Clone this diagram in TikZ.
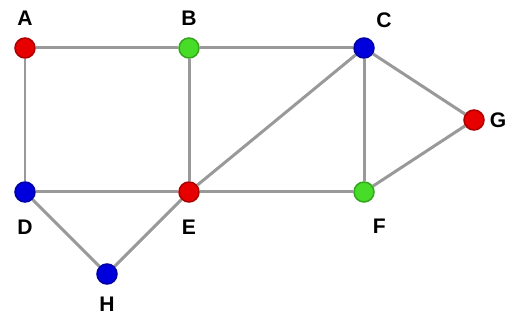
\documentclass[tikz,border=0pt]{standalone}
\usepackage{fontspec}
\setmainfont{Liberation Sans}
\usetikzlibrary{positioning,backgrounds}
\definecolor{vred}{RGB}{230,0,0}
\definecolor{vgreen}{RGB}{70,220,40}
\definecolor{vblue}{RGB}{0,0,220}

\begin{document}
\begin{tikzpicture}[x=0.02cm,y=-0.02cm,
    vertex/.style={circle,draw=#1!75!black,fill=#1,line width=0.3mm,minimum size=0.4cm,inner sep=0},
    edge/.style={draw=gray!80,line width=0.6mm},
    every label/.style={font=\bfseries\large,inner sep=1pt,label distance=2mm}]
    \useasboundingbox (0,0) rectangle (508,320);
    % vertices
    \node[vertex=vred,   label=above:A] (A) at (25,48) {};
    \node[vertex=vgreen, label=above:B] (B) at (189,48) {};
    \node[vertex=vblue,  label=60:C] (C) at (364,48) {};
    \node[vertex=vred,   label={[label distance=0.6mm]right:G}] (G) at (474,120) {};
    \node[vertex=vblue,  label={[label distance=3mm]below:D}] (D) at (25,192) {};
    \node[vertex=vred,   label={[label distance=3mm]below:E}] (E) at (189,192) {};
    \node[vertex=vgreen, label={[label distance=3mm]-75:F}] (F) at (364,192) {};
    \node[vertex=vblue,  label={[label distance=2mm]below:H}] (H) at (107,274) {};
    % edges
    \begin{scope}[on background layer]
    \foreach \a/\b in {A/B,B/C,A/D,B/E,D/E,E/F,E/C,C/F,C/G,F/G,D/H,H/E}
        \path[edge] (\a) -- (\b);
    \end{scope}
\end{tikzpicture}
\end{document}
